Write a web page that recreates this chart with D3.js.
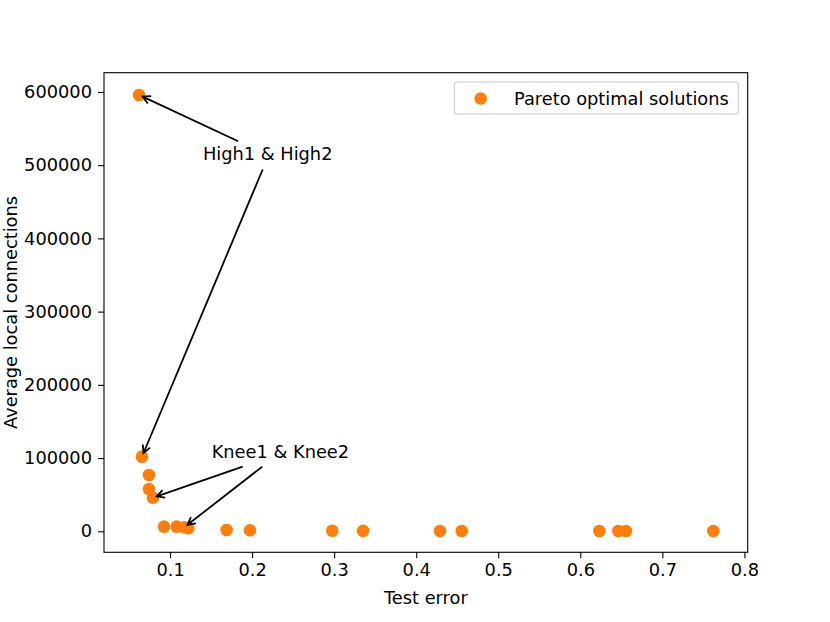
<!DOCTYPE html>
<html>
<head>
<meta charset="utf-8">
<script src="https://cdn.jsdelivr.net/npm/d3@7"></script>
<style>
  body { margin: 0; background: #fff; }
  svg { display: block; font-family: "DejaVu Sans", sans-serif; }
</style>
</head>
<body>
<div id="chart"></div>
<script>
const WIDTH = 830, HEIGHT = 622;
const MARGIN = {left: 104, right: 82.3, top: 72.7, bottom: 69.7};
const ORANGE = "#ff7f0e";
const FONT = 17.8;

// test error / average local connections of the pareto front
const testError = [0.0622, 0.0658, 0.0743, 0.0743, 0.0792, 0.0926, 0.1081, 0.1174, 0.1222,
        0.169, 0.1974, 0.2977, 0.3352, 0.429, 0.4555, 0.6232, 0.6463, 0.6557, 0.7621];
const connections = [595900, 101900, 76900, 57800, 45900, 6300, 6300, 5500, 4100,
        1800, 1500, 700, 500, 400, 400, 400, 400, 400, 400];

const X_TICKS = [0.1, 0.2, 0.3, 0.4, 0.5, 0.6, 0.7, 0.8];
const Y_TICKS = [0, 100000, 200000, 300000, 400000, 500000, 600000];

// annotations: label position, arrow starts and targets (data coords)
const ANNOTATIONS = [
        {label: "High1 & High2", at: [0.219, 516500],
         arrows: [{from: [0.183, 532700], to: [0.0622, 595900]},
                  {from: [0.2129, 494100], to: [0.0658, 101900]}]},
        {label: "Knee1 & Knee2", at: [0.2345, 108300],
         arrows: [{from: [0.1885, 88300], to: [0.0792, 45900]},
                  {from: [0.2124, 88300], to: [0.1174, 5500]}]}
];

const svg = d3.select("#chart").append("svg")
        .attr("width", WIDTH)
        .attr("height", HEIGHT);

const x = d3.scaleLinear()
        .domain([0.0195, 0.804])
        .range([MARGIN.left, WIDTH - MARGIN.right]);
const y = d3.scaleLinear()
        .domain([-28700, 626300])
        .range([HEIGHT - MARGIN.bottom, MARGIN.top]);

// axes
const xAxis = d3.axisBottom(x).tickValues(X_TICKS).tickFormat(d3.format(".1f"))
        .tickSize(6).tickPadding(5);
const yAxis = d3.axisLeft(y).tickValues(Y_TICKS).tickFormat(d3.format("d"))
        .tickSize(6).tickPadding(6);

const gx = svg.append("g")
        .attr("transform", "translate(0," + (HEIGHT - MARGIN.bottom) + ")")
        .call(xAxis);
const gy = svg.append("g")
        .attr("transform", "translate(" + MARGIN.left + ",0)")
        .call(yAxis);
[gx, gy].forEach(g => {
        g.select(".domain").remove();
        g.selectAll(".tick line").attr("stroke", "#000").attr("stroke-width", 1.1);
        g.selectAll(".tick text").attr("fill", "#000")
          .style("font-size", FONT + "px")
          .style("font-family", "DejaVu Sans");
});

// frame
svg.append("rect")
        .attr("x", MARGIN.left)
        .attr("y", MARGIN.top)
        .attr("width", WIDTH - MARGIN.left - MARGIN.right)
        .attr("height", HEIGHT - MARGIN.top - MARGIN.bottom)
        .attr("fill", "none")
        .attr("stroke", "#000")
        .attr("stroke-width", 1.1);

// axis labels
svg.append("text")
        .attr("x", (MARGIN.left + WIDTH - MARGIN.right) / 2)
        .attr("y", 604)
        .attr("text-anchor", "middle")
        .style("font-size", FONT + "px")
        .text("Test error");
svg.append("text")
        .attr("transform", "translate(16.5," + (MARGIN.top + HEIGHT - MARGIN.bottom) / 2 + ") rotate(-90)")
        .attr("text-anchor", "middle")
        .style("font-size", FONT + "px")
        .text("Average local connections");

// points
svg.append("g").selectAll("circle")
        .data(testError.map((d, i) => [d, connections[i]]))
        .enter()
        .append("circle")
        .attr("cx", d => x(d[0]))
        .attr("cy", d => y(d[1]))
        .attr("r", 6.3)
        .attr("fill", ORANGE);

// annotations
const shorten = function (x1, y1, x2, y2, s) {
        const len = Math.hypot(x2 - x1, y2 - y1);
        return [x2 - (x2 - x1) * s / len, y2 - (y2 - y1) * s / len];
};
ANNOTATIONS.forEach(a => {
        svg.append("text")
          .attr("x", x(a.at[0]))
          .attr("y", y(a.at[1]))
          .attr("text-anchor", "middle")
          .attr("dominant-baseline", "central")
          .style("font-size", FONT + "px")
          .text(a.label);
        a.arrows.forEach(r => {
                const x1 = x(r.from[0]), y1 = y(r.from[1]);
                const [x2, y2] = shorten(x1, y1, x(r.to[0]), y(r.to[1]), 4);
                const ang = Math.atan2(y2 - y1, x2 - x1);
                const hl = 7.5, hw = 4;
                const bx = x2 - hl * Math.cos(ang), by = y2 - hl * Math.sin(ang);
                const px = -Math.sin(ang) * hw, py = Math.cos(ang) * hw;
                svg.append("line")
                  .attr("x1", x1).attr("y1", y1).attr("x2", x2).attr("y2", y2)
                  .attr("stroke", "#000").attr("stroke-width", 1.8);
                svg.append("path")
                  .attr("d", "M" + (bx + px) + "," + (by + py) + "L" + x2 + "," + y2 + "L" + (bx - px) + "," + (by - py))
                  .attr("fill", "none").attr("stroke", "#000").attr("stroke-width", 1.8);
        });
});

// legend
const legend = svg.append("g").attr("transform", "translate(454.3,82)");
legend.append("rect")
        .attr("width", 284)
        .attr("height", 32)
        .attr("rx", 3)
        .attr("fill", "#fff")
        .attr("fill-opacity", 0.8)
        .attr("stroke", "#cccccc")
        .attr("stroke-width", 1.1);
legend.append("circle")
        .attr("cx", 26.4)
        .attr("cy", 16.5)
        .attr("r", 6.3)
        .attr("fill", ORANGE);
legend.append("text")
        .attr("x", 59.7)
        .attr("y", 16.5)
        .attr("dominant-baseline", "central")
        .style("font-size", FONT + "px")
        .text("Pareto optimal solutions");
</script>
</body>
</html>
